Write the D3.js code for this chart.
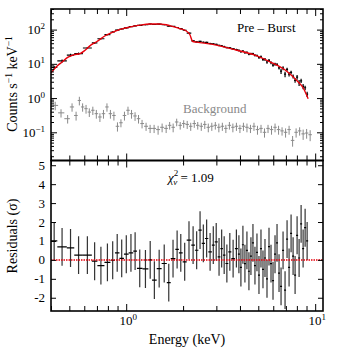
<!DOCTYPE html>
<html>
<head>
<meta charset="utf-8">
<script src="https://cdnjs.cloudflare.com/ajax/libs/d3/7.8.5/d3.min.js"></script>
<style>
  body { margin: 0; background: #fff; }
  svg text { font-family: "Liberation Serif", "DejaVu Serif", serif; fill: #000; }
</style>
</head>
<body>
<div id="chart"></div>
<script>
// source spectrum bin edges (keV)
var binEdges = [0.40, 0.432, 0.485, 0.531, 0.590, 0.658, 0.704, 0.767, 0.825, 0.872,
  0.921, 0.973, 1.03, 1.09, 1.14, 1.22, 1.31, 1.37, 1.45, 1.54, 1.64, 1.72, 1.82, 1.90,
  1.99, 2.09, 2.21, 2.31, 2.41, 2.51, 2.61, 2.72, 2.84, 2.94, 3.05, 3.15, 3.25, 3.35,
  3.47, 3.60, 3.76, 3.90, 3.997, 4.095, 4.197, 4.301, 4.407, 4.516, 4.628, 4.743, 4.860,
  4.980, 5.104, 5.230, 5.359, 5.492, 5.628, 5.767, 5.910, 6.056, 6.206, 6.360, 6.517,
  6.679, 6.844, 7.013, 7.187, 7.365, 7.547, 7.734, 7.925, 8.121, 8.322, 8.528, 8.739,
  8.956, 9.177];

// counts s^-1 keV^-1 per bin
var srcFlux = [7.9, 12.2, 18.0, 20.0, 29, 40.8, 54, 71.5, 85, 96.5, 104.3, 111.8, 122.6,
  129, 133, 138.8, 146, 141, 144, 138.6, 127.2, 124.3, 115.2, 106.4, 95.7, 79, 46.7, 44,
  45.1, 42.7, 42.1, 39.3, 38.2, 37.2, 34.5, 33.8, 31.9, 29.9, 29.5, 27.4, 26.2,
  24.6, 22.6, 23.7, 21.3, 21.5, 19.3, 19.7, 19.9, 17.6, 17.5, 15.1, 16.0, 13.5, 13.5,
  11.3, 12.7, 10.9, 9.2, 9.8, 9.6, 7.6, 6.1, 7.5, 5.0, 6.9, 5.0, 5.6, 4.3, 3.3, 4.1,
  2.8, 3.2, 2.2, 2.0, 1.3];
var srcErr = [0.9, 1.3, 1.6, 1.6, 2.0, 2.5, 3.0, 3.5, 4.0, 4.0, 4.0, 4.2, 4.3, 4.5, 4.5,
  4.5, 4.6, 4.6, 4.6, 4.5, 4.4, 4.2, 4.0, 3.8, 3.5, 3.0, 2.2, 2.1, 2.0, 2.0, 1.9, 1.8,
  1.8, 1.7, 1.7, 1.6, 1.6, 1.5, 1.5, 1.5, 1.5,
  1.7, 1.6, 1.6, 1.5, 1.5, 1.4, 1.4, 1.3, 1.3, 1.2, 1.1, 1.5, 1.4, 1.3, 1.3, 1.2, 1.1,
  1.0, 0.95, 0.88, 0.82, 1.06, 0.98, 0.91, 0.84, 0.74, 0.66, 0.59, 0.52, 0.65, 0.55,
  0.46, 0.39, 0.30, 0.22];

// residuals in units of sigma (error bars are +-1)
var residuals = [1.0, 0.69, 0.63, 0.25, 0.25, -0.07, -0.3, -0.13, -0.02, 0.37, 0.08, 0.3,
  0.37, 0.46, -0.45, -0.48, 0.0, -1.07, -0.46, -0.19, -1.2, 0.07, 0.55, 0.37, -0.1, 1.04,
  0.78, 0.51, 1.57, 0.87, 1.13, 0.42, 0.78, 0.95, 0.16, 0.6, 0.25, -0.19, 0.42, 0.07, 0.6,
  0.3, -0.4, 0.8, -0.2, 0.5, -0.6, 0.2, 0.9, -0.3, 0.4, -0.8, 0.6, -0.5, 0.1, -1.0, 0.7,
  -0.2, -1.1, 0.3, 0.9, -0.7, -1.4, 0.5, -1.6, 1.1, -0.4, 1.4, 0.2, -0.8, 1.3, 0.1, 1.9,
  0.6, 1.7, 1.0];

// best fit model
var modelE = [0.40, 0.43, 0.46, 0.49, 0.53, 0.57, 0.60, 0.64, 0.70, 0.77, 0.85, 0.92,
  1.04, 1.18, 1.33, 1.50, 1.70, 1.92, 2.06, 2.17, 2.25, 2.36, 2.87, 3.85, 4.80, 5.77,
  7.10, 8.02, 8.63, 9.18];
var modelF = [5.5, 8.5, 11.5, 15.5, 18.5, 20, 24, 33, 45, 65, 85, 100, 118, 135, 146, 146,
  131, 107, 94, 72, 45, 43, 37, 25, 18, 11.5, 6.0, 3.2, 2.0, 0.95];

// background spectrum
var bgEnergy = [0.421, 0.452, 0.490, 0.517, 0.543, 0.565, 0.588, 0.613, 0.638, 0.666,
  0.695, 0.726, 0.758, 0.791, 0.825, 0.861, 0.899, 0.938, 0.979, 1.022, 1.067, 1.114,
  1.162, 1.213, 1.274, 1.338, 1.405, 1.475, 1.549, 1.627, 1.698, 1.772, 1.850, 1.931,
  2.015, 2.103, 2.195, 2.292, 2.391, 2.496, 2.605, 2.719, 2.838, 2.962, 3.092, 3.227,
  3.368, 3.516, 3.669, 3.830, 3.998, 4.172, 4.355, 4.545, 4.744, 4.951, 5.168, 5.394,
  5.630, 5.875, 6.132, 6.401, 6.679, 6.971, 7.276, 7.595, 7.927, 8.274, 8.636, 9.011,
  9.406];
var bgFlux = [0.61, 0.37, 0.25, 0.55, 0.31, 0.85, 0.55, 0.49, 0.39, 0.44, 0.35, 0.28,
  0.35, 0.55, 0.35, 0.31, 0.15, 0.19, 0.31, 0.44, 0.35, 0.30, 0.25, 0.18, 0.15, 0.13,
  0.13, 0.12, 0.14, 0.13, 0.16, 0.14, 0.20, 0.16, 0.18, 0.17, 0.15, 0.18, 0.16, 0.15,
  0.17, 0.14, 0.15, 0.16, 0.14, 0.15, 0.13, 0.16, 0.14, 0.15, 0.13, 0.15, 0.14, 0.13,
  0.15, 0.12, 0.13, 0.10, 0.13, 0.12, 0.14, 0.12, 0.11, 0.10, 0.12, 0.058, 0.10, 0.11,
  0.09, 0.095, 0.085];
var bgErr = [0.17, 0.10, 0.07, 0.15, 0.09, 0.24, 0.15, 0.14, 0.11, 0.12, 0.10, 0.08,
  0.10, 0.15, 0.10, 0.09, 0.045, 0.05, 0.09, 0.12, 0.10, 0.085, 0.07, 0.05, 0.04, 0.035,
  0.035, 0.035, 0.04, 0.035, 0.04, 0.04, 0.05, 0.04, 0.045, 0.045, 0.04, 0.045, 0.04,
  0.04, 0.045, 0.04, 0.04, 0.04, 0.04, 0.04, 0.035, 0.04, 0.04, 0.04, 0.035, 0.04, 0.04,
  0.035, 0.04, 0.035, 0.035, 0.03, 0.035, 0.035, 0.04, 0.035, 0.03, 0.03, 0.035, 0.02,
  0.03, 0.03, 0.03, 0.03, 0.03];

var xTickLabels = [1, 10];
var topTickLabels = [0.1, 1, 10, 100];
var resTickLabels = [-2, -1, 0, 1, 2, 3, 4, 5];
var chiValue = "1.09";

// layout
var svgWidth = 341, svgHeight = 354;
var left = 51, right = 323, top1 = 9, mid = 160.5, bottom = 311;

var svg = d3.select("#chart").append("svg")
  .attr("width", svgWidth)
  .attr("height", svgHeight);

var x = d3.scaleLog().domain([0.4, 11]).range([left, right]);
var yTop = d3.scaleLog().domain([0.015, 400]).range([mid, top1]);
var yRes = d3.scaleLinear().domain([-2.7, 5.25]).range([bottom, mid]);

var isDecade = d => Math.abs(Math.log10(d) - Math.round(Math.log10(d))) < 1e-9;

// clip paths
var defs = svg.append("defs");
defs.append("clipPath").attr("id", "clipTop").append("rect")
  .attr("x", left).attr("y", top1).attr("width", right - left).attr("height", mid - top1);
defs.append("clipPath").attr("id", "clipRes").append("rect")
  .attr("x", left).attr("y", mid).attr("width", right - left).attr("height", bottom - mid);

var topG = svg.append("g").attr("clip-path", "url(#clipTop)");
var resG = svg.append("g").attr("clip-path", "url(#clipRes)");

// bins
var bins = srcFlux.map(function(f, i) {
  var lo = binEdges[i], hi = binEdges[i + 1];
  return { lo: lo, hi: hi, c: Math.sqrt(lo * hi), f: f, e: srcErr[i], r: residuals[i] };
});

// background crosses (bin extent reaches halfway to neighbours)
var bgPts = bgEnergy.map(function(e, i) {
  var prev = i > 0 ? bgEnergy[i - 1] : e * e / bgEnergy[i + 1];
  var next = i < bgEnergy.length - 1 ? bgEnergy[i + 1] : e * e / bgEnergy[i - 1];
  return { c: e, lo: Math.sqrt(prev * e), hi: Math.sqrt(e * next), f: bgFlux[i], e: bgErr[i] };
});

var bgColor = "#8a8a8a";
topG.selectAll(".bgh").data(bgPts).enter().append("line")
  .attr("x1", d => x(d.lo)).attr("x2", d => x(d.hi))
  .attr("y1", d => yTop(d.f)).attr("y2", d => yTop(d.f))
  .attr("stroke", bgColor).attr("stroke-width", 1);
topG.selectAll(".bgv").data(bgPts).enter().append("line")
  .attr("x1", d => x(d.c)).attr("x2", d => x(d.c))
  .attr("y1", d => yTop(Math.max(d.f - d.e, 0.001))).attr("y2", d => yTop(d.f + d.e))
  .attr("stroke", bgColor).attr("stroke-width", 1);

// source crosses
topG.selectAll(".sh").data(bins).enter().append("line")
  .attr("x1", d => x(d.lo)).attr("x2", d => x(d.hi))
  .attr("y1", d => yTop(d.f)).attr("y2", d => yTop(d.f))
  .attr("stroke", "#000").attr("stroke-width", 1.2);
topG.selectAll(".sv").data(bins).enter().append("line")
  .attr("x1", d => x(d.c)).attr("x2", d => x(d.c))
  .attr("y1", d => yTop(d.f - d.e)).attr("y2", d => yTop(d.f + d.e))
  .attr("stroke", "#000").attr("stroke-width", 1.2);

// model
var modelLine = d3.line()
  .x(d => x(d[0]))
  .y(d => yTop(d[1]))
  .curve(d3.curveMonotoneX);
topG.append("path")
  .datum(modelE.map((e, i) => [e, modelF[i]]))
  .attr("d", modelLine)
  .attr("fill", "none")
  .attr("stroke", "#e8000b")
  .attr("stroke-width", 1.4);

// residuals
resG.selectAll(".rv").data(bins).enter().append("line")
  .attr("x1", d => x(d.c)).attr("x2", d => x(d.c))
  .attr("y1", d => yRes(d.r - 1)).attr("y2", d => yRes(d.r + 1))
  .attr("stroke", "#333").attr("stroke-width", 1.2);
resG.selectAll(".rh").data(bins).enter().append("line")
  .attr("x1", d => x(d.lo)).attr("x2", d => x(d.hi))
  .attr("y1", d => yRes(d.r)).attr("y2", d => yRes(d.r))
  .attr("stroke", "#000").attr("stroke-width", 1.2);

resG.append("line")
  .attr("x1", left).attr("x2", right)
  .attr("y1", yRes(0)).attr("y2", yRes(0))
  .attr("stroke", "#e8000b").attr("stroke-width", 1.5)
  .attr("stroke-dasharray", "1.5,1");

// ticks
function addTicks(axisGen, values, size, transform) {
  var g = svg.append("g")
    .attr("transform", transform)
    .call(axisGen.tickValues(values).tickSize(size).tickSizeOuter(0).tickFormat(""));
  g.select(".domain").remove();
  g.selectAll(".tick line").attr("stroke", "#000").attr("stroke-width", 1);
}

var xAll = x.ticks();
var xMajor = xAll.filter(isDecade), xMinor = xAll.filter(d => !isDecade(d));
var yAll = yTop.ticks();
var yMajor = yAll.filter(isDecade), yMinor = yAll.filter(d => !isDecade(d));

[["axisTop", top1], ["axisBottom", mid], ["axisTop", mid], ["axisBottom", bottom]].forEach(function(a) {
  addTicks(d3[a[0]](x), xMajor, -7, `translate(0, ${a[1]})`);
  addTicks(d3[a[0]](x), xMinor, -5, `translate(0, ${a[1]})`);
});
addTicks(d3.axisLeft(yTop), yMajor, -6, `translate(${left}, 0)`);
addTicks(d3.axisLeft(yTop), yMinor, -3, `translate(${left}, 0)`);
addTicks(d3.axisRight(yTop), yMajor, -6, `translate(${right}, 0)`);
addTicks(d3.axisRight(yTop), yMinor, -3, `translate(${right}, 0)`);
addTicks(d3.axisLeft(yRes), resTickLabels, -5, `translate(${left}, 0)`);
addTicks(d3.axisRight(yRes), resTickLabels, -5, `translate(${right}, 0)`);

// frames
[[top1, mid], [mid, bottom]].forEach(function(p) {
  svg.append("rect")
    .attr("x", left).attr("y", p[0])
    .attr("width", right - left).attr("height", p[1] - p[0])
    .attr("fill", "none").attr("stroke", "#000").attr("stroke-width", 1.6);
});

// tick labels
function powerLabel(t, v) {
  var ex = Math.round(Math.log10(v));
  t.append("tspan").text("10");
  t.append("tspan").attr("dy", -5).attr("font-size", 9)
    .text(ex < 0 ? "\u2212" + (-ex) : ex);
}

topTickLabels.forEach(function(v) {
  var t = svg.append("text")
    .attr("x", 45).attr("y", yTop(v) + 4.5)
    .attr("text-anchor", "end").attr("font-size", 13);
  powerLabel(t, v);
});
xTickLabels.forEach(function(v) {
  var t = svg.append("text")
    .attr("x", x(v) + 2).attr("y", 325)
    .attr("text-anchor", "middle").attr("font-size", 13);
  powerLabel(t, v);
});
resTickLabels.forEach(function(v) {
  svg.append("text")
    .attr("x", 45).attr("y", yRes(v) + 4.5)
    .attr("text-anchor", "end").attr("font-size", 13)
    .text(v < 0 ? "-" + (-v) : v);
});

// axis titles
var yt = svg.append("text")
  .attr("transform", "translate(17, 84) rotate(-90)")
  .attr("text-anchor", "middle").attr("font-size", 14);
yt.append("tspan").text("Counts s");
yt.append("tspan").attr("dy", -5).attr("font-size", 9.5).text("\u22121");
yt.append("tspan").attr("dy", 5).text(" keV");
yt.append("tspan").attr("dy", -5).attr("font-size", 9.5).text("\u22121");

svg.append("text")
  .attr("transform", "translate(17, 236) rotate(-90)")
  .attr("text-anchor", "middle").attr("font-size", 14)
  .text("Residuals (\u03c3)");

svg.append("text")
  .attr("x", 187).attr("y", 344)
  .attr("text-anchor", "middle").attr("font-size", 14)
  .text("Energy (keV)");

// annotations
svg.append("text")
  .attr("x", 237).attr("y", 32).attr("font-size", 13)
  .text("Pre \u2013 Burst");

svg.append("text")
  .attr("x", 183).attr("y", 113).attr("font-size", 13)
  .style("fill", bgColor)
  .text("Background");

var chi = svg.append("text")
  .attr("x", 168).attr("y", 182).attr("font-size", 13);
chi.append("tspan").attr("font-style", "italic").text("\u03c7");
chi.append("tspan").attr("dy", -6).attr("font-size", 9).text("2");
chi.append("tspan").attr("dx", -5).attr("dy", 9).attr("font-size", 9).attr("font-style", "italic").text("\u03bd");
chi.append("tspan").attr("dy", -3).text(" = " + chiValue);
</script>
</body>
</html>
